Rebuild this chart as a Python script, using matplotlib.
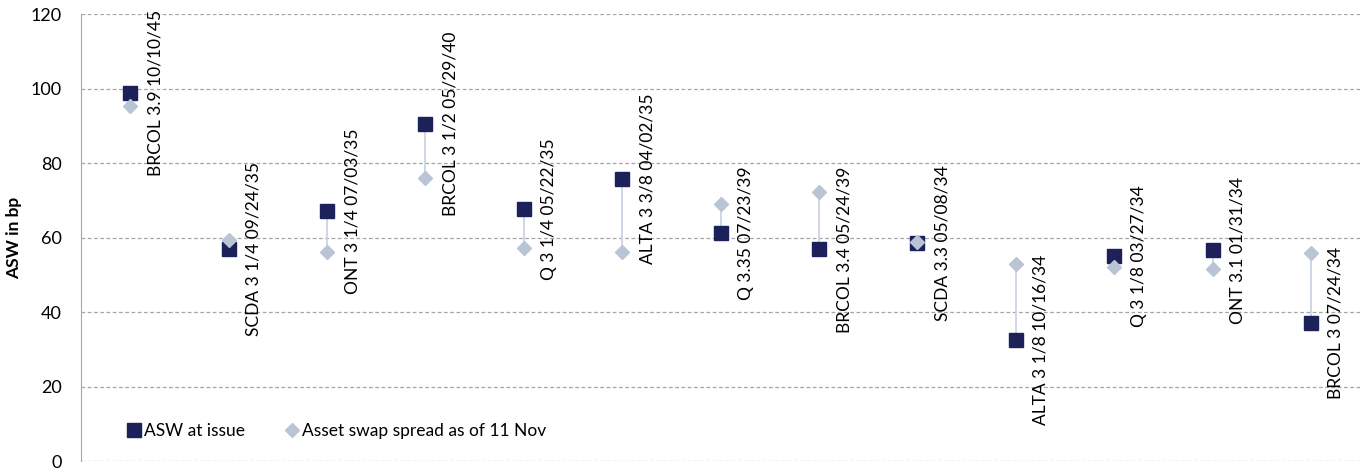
import matplotlib
matplotlib.use("Agg")
import matplotlib.pyplot as plt

plt.rcParams['font.family'] = ['Lato', 'DejaVu Sans']

bonds = [
    "BRCOL 3.9 10/10/45", "SCDA 3 1/4 09/24/35", "ONT 3 1/4 07/03/35",
    "BRCOL 3 1/2 05/29/40", "Q 3 1/4 05/22/35", "ALTA 3 3/8 04/02/35",
    "Q 3.35 07/23/39", "BRCOL 3.4 05/24/39", "SCDA 3.3 05/08/34",
    "ALTA 3 1/8 10/16/34", "Q 3 1/8 03/27/34", "ONT 3.1 01/31/34",
    "BRCOL 3 07/24/34",
]
asw_at_issue = [98.8, 56.9, 67.1, 90.5, 67.7, 75.7, 61.1, 56.8, 58.5, 32.5, 55.0, 56.6, 37.0]
asw_current = [95.3, 59.3, 56.0, 75.9, 57.1, 56.2, 69.0, 72.2, 58.9, 52.9, 52.0, 51.6, 55.8]
y_ticks = [0, 20, 40, 60, 80, 100, 120]

navy = "#1c2259"
light = "#b9c5d5"
line_col = "#c6d1de"

fig = plt.figure(figsize=(13.67, 4.70), dpi=100)
ax = fig.add_axes([0.0593, 0.0191, 0.9357, 0.9511])

x = list(range(len(bonds)))
lo = [min(a, b) for a, b in zip(asw_at_issue, asw_current)]
hi = [max(a, b) for a, b in zip(asw_at_issue, asw_current)]
ax.vlines(x, lo, hi, color=line_col, lw=1.2, zorder=2)
ax.plot(x, asw_at_issue, linestyle='none', marker='s', ms=9.5, color=navy,
        mec=navy, zorder=3, label="ASW at issue")
ax.plot(x, asw_current, linestyle='none', marker='D', ms=7, color=light,
        mec=light, zorder=4, label="Asset swap spread as of 11 Nov")

for xi, name, v in zip(x, bonds, asw_at_issue):
    ax.annotate(name, xy=(xi, v), xytext=(18, 0), textcoords='offset points',
                rotation=90, ha='center', va='center', fontsize=12.5,
                color='black', zorder=5)

ax.set_xlim(-0.5, len(bonds) - 0.5)
ax.set_ylim(0, 120)
ax.set_yticks(y_ticks)
ax.tick_params(axis='y', length=0, labelsize=13, pad=14)
ax.set_xticks([])
ax.yaxis.grid(True, linestyle=(0, (3, 2)), color='#a6a6a6', lw=0.9)
ax.set_axisbelow(True)
for s in ['top', 'right', 'bottom']:
    ax.spines[s].set_visible(False)
ax.spines['left'].set_color('#a6a6a6')
ax.set_ylabel("ASW in bp", fontsize=12.5, fontweight='bold', labelpad=6)

ax.legend(loc='lower left', bbox_to_anchor=(0.022, 0.015), ncol=2,
          frameon=False, fontsize=12.5, handletextpad=0.1,
          columnspacing=2.2, handlelength=1.0)

fig.savefig("out.png", dpi=100)
